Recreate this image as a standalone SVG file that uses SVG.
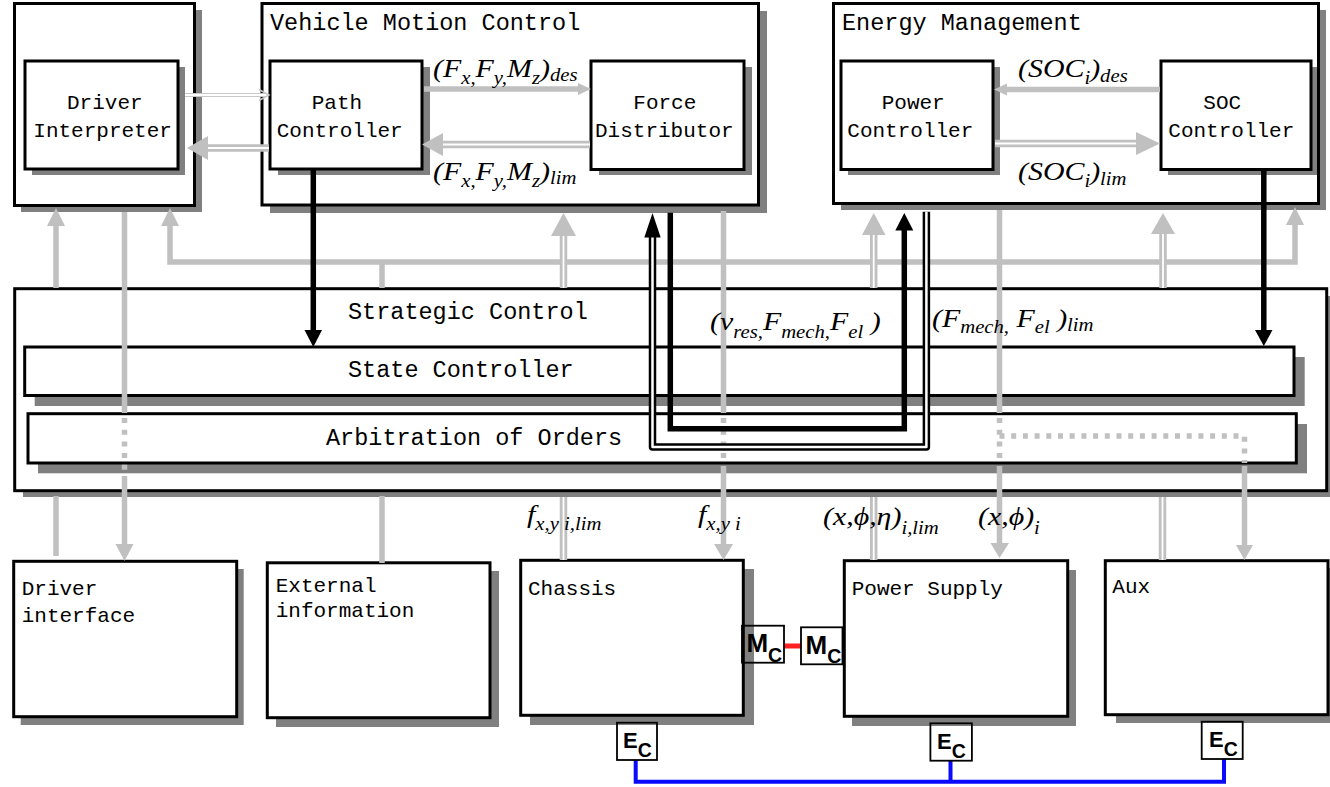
<svg xmlns="http://www.w3.org/2000/svg" width="1330" height="787" viewBox="0 0 1330 787">
<defs>
<style>
.bx{fill:#fff;stroke:#000;stroke-width:3}
.sh{fill:#808080}
.t{font-family:"Liberation Mono","Courier New",monospace;font-size:21px;fill:#000}
.tt{font-family:"Liberation Mono","Courier New",monospace;font-size:23.5px;fill:#000}
.g{fill:none;stroke:#c0c0c0;stroke-width:5.5}
.gd{fill:none;stroke:#c0c0c0;stroke-width:5.5;stroke-dasharray:5 6.7}
.db{fill:none;stroke:#c0c0c0;stroke-width:7.5}
.dw{fill:none;stroke:#fff;stroke-width:1.8}
.ga{fill:#c0c0c0}
.k{fill:none;stroke:#000;stroke-width:5.5}
.ka{fill:#000}
.m{font-family:"Liberation Serif","DejaVu Serif",serif;font-size:26px;font-style:italic;fill:#000}
.s{font-size:18px}
.cb{fill:none;stroke:#000;stroke-width:1.8}
.ct{font-family:"Liberation Sans",Arial,sans-serif;font-weight:bold;fill:#000}
</style>
</defs>
<rect width="1330" height="787" fill="#fff"/>

<g id="driver-panel">
<rect class="sh" x="21" y="10" width="181" height="202"/>
<rect class="bx" x="14.5" y="3.5" width="180" height="202"/>
</g>
<g id="driver-interpreter">
<rect class="sh" x="32" y="67" width="153" height="108"/>
<rect class="bx" x="25" y="61" width="153" height="108"/>
<text class="t" x="67" y="109.3">Driver</text>
<text class="t" x="33.3" y="136.7">Interpreter</text>
</g>
<g id="vehicle-motion-control">
<rect class="sh" x="270" y="11" width="497" height="202"/>
<rect class="bx" x="262" y="3.5" width="496.5" height="201.5"/>
<text class="tt" x="270" y="29.5">Vehicle Motion Control</text>
</g>
<g id="path-controller">
<rect class="sh" x="278" y="67" width="152" height="108"/>
<rect class="bx" x="270" y="61" width="152" height="108"/>
<text class="t" x="311.7" y="109.3">Path</text>
<text class="t" x="276.7" y="136.7">Controller</text>
</g>
<g id="force-distributor">
<rect class="sh" x="599" y="67" width="153" height="108"/>
<rect class="bx" x="591" y="61" width="153" height="108.5"/>
<text class="t" x="633.3" y="109.3">Force</text>
<text class="t" x="595" y="136.7">Distributor</text>
</g>
<g id="energy-management">
<rect class="sh" x="841" y="10" width="485" height="200"/>
<rect class="bx" x="833.5" y="3.5" width="485" height="200"/>
<text class="tt" x="842" y="29.5">Energy Management</text>
</g>
<g id="power-controller">
<rect class="sh" x="848" y="67" width="152" height="108"/>
<rect class="bx" x="841" y="61" width="152" height="108.5"/>
<text class="t" x="881.7" y="109.3">Power</text>
<text class="t" x="847.3" y="136.7">Controller</text>
</g>
<g id="soc-controller">
<rect class="sh" x="1168" y="67" width="149" height="108"/>
<rect class="bx" x="1161" y="61" width="150" height="108.5"/>
<text class="t" x="1203.3" y="109.3">SOC</text>
<text class="t" x="1168.3" y="136.7">Controller</text>
</g>

<g id="strategic-control">
<rect class="sh" x="23" y="296" width="1312" height="201"/>
<rect class="bx" x="14.7" y="288.7" width="1312" height="202"/>
<text class="tt" x="348" y="319.3">Strategic Control</text>
</g>
<g id="state-controller">
<rect class="sh" x="34.7" y="357" width="1270" height="49"/>
<rect class="bx" x="24.7" y="347" width="1269.3" height="48.5"/>
<text class="tt" x="348" y="376.7">State Controller</text>
</g>
<g id="arbitration-of-orders">
<rect class="sh" x="38" y="424" width="1269" height="49.3"/>
<rect class="bx" x="28" y="413.7" width="1268.3" height="49.3"/>
<text class="tt" x="326" y="444.5">Arbitration of Orders</text>
</g>

<g id="driver-interface">
<rect class="sh" x="20.7" y="569" width="223" height="156"/>
<rect class="bx" x="13.7" y="561.3" width="223" height="155.4"/>
<text class="t" x="21.7" y="595">Driver</text>
<text class="t" x="21.7" y="621.7">interface</text>
</g>
<g id="external-information">
<rect class="sh" x="276" y="571" width="223" height="156"/>
<rect class="bx" x="267.3" y="562.8" width="222.7" height="154.9"/>
<text class="t" x="275.7" y="591.7">External</text>
<text class="t" x="275.7" y="617.3">information</text>
</g>
<g id="chassis">
<rect class="sh" x="530" y="569" width="224" height="156"/>
<rect class="bx" x="520.7" y="560.3" width="222.6" height="155"/>
<text class="t" x="528" y="595">Chassis</text>
</g>
<g id="power-supply">
<rect class="sh" x="852" y="570" width="224" height="156"/>
<rect class="bx" x="844.3" y="560.7" width="223.4" height="155.6"/>
<text class="t" x="851.7" y="595">Power Supply</text>
</g>
<g id="aux">
<rect class="sh" x="1116" y="568" width="224" height="155"/>
<rect class="bx" x="1105.3" y="560.7" width="222.7" height="154"/>
<text class="t" x="1112.3" y="593.3">Aux</text>
</g>

<g id="connectors">
<path d="M185,95 H267" fill="none" stroke="#c8c8c8" stroke-width="4"/>
<path d="M185,95 H267" fill="none" stroke="#fff" stroke-width="1.8"/>
<polyline points="259,89.5 269,95 259,100.5" fill="none" stroke="#c8c8c8" stroke-width="1.5"/>
<path class="db" d="M269,148 H206"/><path class="dw" d="M269,148 H206"/>
<polygon class="ga" points="187,148 208,136 208,160"/>
<path class="g" d="M424,89 H580"/>
<polygon class="ga" points="591,89 578,83 578,95"/>
<path class="db" d="M590,144.5 H440"/><path class="dw" d="M590,144.5 H440"/>
<polygon class="ga" points="422,144.5 443,133 443,156"/>
<path class="g" d="M1160,89.5 H1005"/>
<polygon class="ga" points="994,89.5 1007,83.5 1007,95.5"/>
<path class="db" d="M995,143.5 H1138"/><path class="dw" d="M995,143.5 H1138"/>
<polygon class="ga" points="1160,143.5 1136,132 1136,155"/>

<path class="g" d="M56,288 V222"/>
<polygon class="ga" points="56,208 47,226 65,226"/>
<path class="g" d="M56,496 V556"/>
<path class="g" d="M382,496 V563"/>
<path class="g" d="M382,288 V262"/>
<path class="g" d="M170,222 V262 H1295 V222"/>
<polygon class="ga" points="170,208 161,226 179,226"/>
<polygon class="ga" points="1295,207 1286,225 1304,225"/>

<path class="db" d="M563.5,288 V234"/><path class="dw" d="M563.5,288 V234"/>
<polygon class="ga" points="563.5,213 551,236 576,236"/>
<path class="db" d="M563.5,497 V560"/><path class="dw" d="M563.5,497 V560"/>
<path class="db" d="M873.7,288 V233"/><path class="dw" d="M873.7,288 V233"/>
<polygon class="ga" points="873.7,213 862,235 885.5,235"/>
<path class="db" d="M873.7,497 V560"/><path class="dw" d="M873.7,497 V560"/>
<path class="db" d="M1163,288 V232"/><path class="dw" d="M1163,288 V232"/>
<polygon class="ga" points="1163,213 1151,234 1175,234"/>
<path class="db" d="M1162.5,497 V560"/><path class="dw" d="M1162.5,497 V560"/>

<path class="g" d="M124.5,212 V413"/>
<path class="gd" d="M124.5,418 V473"/>
<path class="g" d="M124.5,476 V546"/>
<polygon class="ga" points="124.5,561 115.5,544 133.5,544"/>
<path class="g" d="M723.5,211 V413"/>
<path class="gd" d="M723.5,418 V463"/>
<path class="g" d="M723.5,466 V546"/>
<polygon class="ga" points="723.5,560 714,544 733,544"/>
<path class="g" d="M999.5,210 V413"/>
<path class="gd" d="M999.5,418 V463"/>
<path class="g" d="M999.5,466 V545"/>
<polygon class="ga" points="999.5,558 990.5,543 1009,543"/>
<path class="gd" d="M999.5,436 H1244.5 V463"/>
<path class="g" d="M1244.5,466 V546"/>
<polygon class="ga" points="1244.5,560 1236,545 1253,545"/>

<path class="k" d="M313.3,170 V331"/>
<polygon class="ka" points="313.3,347 304.5,330 322,330"/>
<path class="k" d="M1263.8,170 V331"/>
<polygon class="ka" points="1263.8,346 1255,330 1272.5,330"/>
<path class="k" d="M670.3,212.7 V428.7 H904.3 V229"/>
<polygon class="ka" points="904.3,213 895.3,230.5 913.3,230.5"/>
<path d="M926.4,211.7 V447 H652.5 V237" fill="none" stroke="#000" stroke-width="7.5" stroke-linejoin="round"/>
<path d="M926.4,211.7 V447 H652.5 V237" fill="none" stroke="#fff" stroke-width="2.5" stroke-linejoin="round"/>
<polygon class="ka" points="652.5,213 644.3,237.5 660.7,237.5"/>

<path d="M784,646 H801" fill="none" stroke="#ff2020" stroke-width="5"/>
<path d="M635.7,760 V781.7 H1224 V759 M950.5,761 V781.7" fill="none" stroke="#0a0aff" stroke-width="4"/>

<text class="m" transform="translate(433,77) scale(1.15,1)">(F<tspan class="s" dy="7">x,</tspan><tspan dy="-7">F</tspan><tspan class="s" dy="7">y,</tspan><tspan dy="-7">M</tspan><tspan class="s" dy="7">z</tspan><tspan dy="-7">)</tspan><tspan class="s" dy="4">des</tspan></text>
<text class="m" transform="translate(433,180) scale(1.15,1)">(F<tspan class="s" dy="7">x,</tspan><tspan dy="-7">F</tspan><tspan class="s" dy="7">y,</tspan><tspan dy="-7">M</tspan><tspan class="s" dy="7">z</tspan><tspan dy="-7">)</tspan><tspan class="s" dy="4">lim</tspan></text>
<text class="m" transform="translate(1018,77) scale(1.15,1)">(SOC<tspan class="s" dy="7">i</tspan><tspan dy="-7">)</tspan><tspan class="s" dy="5">des</tspan></text>
<text class="m" transform="translate(1018,180) scale(1.15,1)">(SOC<tspan class="s" dy="7">i</tspan><tspan dy="-7">)</tspan><tspan class="s" dy="5">lim</tspan></text>
<text class="m" xml:space="preserve" transform="translate(710,330) scale(1.15,1)">(v<tspan class="s" dy="8">res,</tspan><tspan dy="-8">F</tspan><tspan class="s" dy="8">mech,</tspan><tspan dy="-8">F</tspan><tspan class="s" dy="8">el</tspan><tspan dy="-8"> )</tspan></text>
<text class="m" xml:space="preserve" transform="translate(932,327) scale(1.15,1)">(F<tspan class="s" dy="6">mech,</tspan><tspan dy="-6"> F</tspan><tspan class="s" dy="6">el</tspan><tspan dy="-6"> )</tspan><tspan class="s" dy="4">lim</tspan></text>
<text class="m" xml:space="preserve" transform="translate(527,523) scale(1.15,1)">f<tspan class="s" dy="7">x,y i,lim</tspan></text>
<text class="m" xml:space="preserve" transform="translate(698,523) scale(1.15,1)">f<tspan class="s" dy="7">x,y i</tspan></text>
<text class="m" transform="translate(823,525) scale(1.15,1)">(x,ϕ,η)<tspan class="s" dy="9">i,lim</tspan></text>
<text class="m" transform="translate(978,525) scale(1.15,1)">(x,ϕ)<tspan class="s" dy="9">i</tspan></text>
</g>

<g id="mc-chassis">
<rect class="cb" x="742" y="625.7" width="42" height="37"/>
<text class="ct" x="746.4" y="652.3" font-size="26">M<tspan font-size="19.5" dy="9.4">C</tspan></text>
</g>
<g id="mc-power-supply">
<rect class="cb" x="801" y="627.3" width="41.5" height="37"/>
<text class="ct" x="805.5" y="654" font-size="26">M<tspan font-size="19.5" dy="9.3">C</tspan></text>
</g>
<g id="ec-chassis">
<rect class="cb" x="617" y="722.7" width="40" height="37.3"/>
<text class="ct" x="623" y="748.3" font-size="22">E<tspan font-size="19.5" dy="8.4">C</tspan></text>
</g>
<g id="ec-power-supply">
<rect class="cb" x="930.4" y="723.3" width="41.5" height="37.4"/>
<text class="ct" x="937" y="749" font-size="22">E<tspan font-size="19.5" dy="8.5">C</tspan></text>
</g>
<g id="ec-aux">
<rect class="cb" x="1201.7" y="721.7" width="41" height="37.3"/>
<text class="ct" x="1209" y="747" font-size="22">E<tspan font-size="19.5" dy="9">C</tspan></text>
</g>
</svg>
